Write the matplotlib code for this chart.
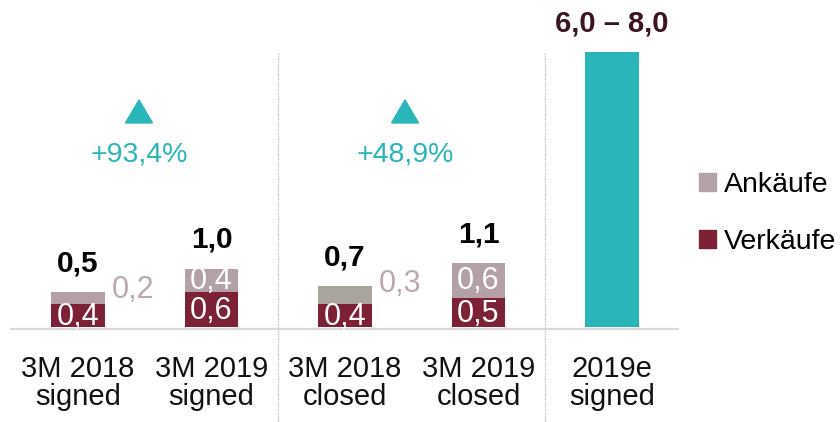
import matplotlib
matplotlib.use('Agg')
import matplotlib.pyplot as plt
from matplotlib.patches import Polygon, Patch

# ---- data ----
cat_line1 = ['3M 2018', '3M 2019', '3M 2018', '3M 2019', '2019e']
cat_line2 = ['signed', 'signed', 'closed', 'closed', 'signed']
verkaeufe = [0.4, 0.6, 0.4, 0.5]
ankaeufe = [0.2, 0.4, 0.3, 0.6]
totals = ['0,5', '1,0', '0,7', '1,1']
verk_labels = ['0,4', '0,6', '0,4', '0,5']
ank_labels = ['0,2', '0,4', '0,3', '0,6']
ank_inside = [False, True, False, True]
forecast_height = 4.74
forecast_label = '6,0 – 8,0'
growth_labels = ['+93,4%', '+48,9%']
growth_pos = [0.457, 2.45]

# ---- style ----
C_VERK = '#7d2137'
C_ANK = '#b3a1a7'
C_ANK_ALT = '#a9a49c'
C_TEAL = '#2ab5b9'
C_OUT = '#bba9ae'
C_DARK = '#3b1520'
FONT = ['Liberation Sans', 'DejaVu Sans']
plt.rcParams['font.family'] = FONT

fig = plt.figure(figsize=(8.4, 4.22), dpi=100)
ax = fig.add_axes([0, 0, 1, 1])
ax.set_xlim(-0.584, 5.708)
ax.set_ylim(-1.638, 5.638)
ax.axis('off')

x = list(range(len(verkaeufe)))
W = 0.40
ank_colors = [C_ANK, C_ANK, C_ANK_ALT, C_ANK]

# baseline
ax.plot([-0.509, 4.502], [-0.026, -0.026], color='#d9d9d9', lw=1.6, zorder=1,
        solid_capstyle='butt')
# separators
ax.vlines([1.5, 3.5], -1.638, forecast_height, colors='#bfb2b6', lw=0.9,
          linestyles=(0, (1, 1)), zorder=1)

ax.bar(x, verkaeufe, W, color=C_VERK, zorder=2)
ax.bar(x, ankaeufe, W, bottom=verkaeufe, color=ank_colors, zorder=2)
ax.bar([4], [forecast_height], W, color=C_TEAL, zorder=2)

OFF = 0.5
for i in x:
    v, a = verkaeufe[i], ankaeufe[i]
    ax.text(i, v / 2 - 0.02, verk_labels[i], ha='center', va='center',
            color='white', fontsize=22, zorder=4)
    if ank_inside[i]:
        ax.text(i, v + a / 2, ank_labels[i], ha='center', va='center',
                color='white', fontsize=22, zorder=4)
    else:
        ax.text(i + W / 2 + 0.055, v + a + 0.04, ank_labels[i], ha='left',
                va='center', color=C_OUT, fontsize=22)
    ax.text(i, v + a + OFF, totals[i], ha='center', va='center',
            color='black', fontsize=21.5, fontweight='bold')

ax.text(4, forecast_height + OFF, forecast_label, ha='center', va='center',
        color=C_DARK, fontsize=21, fontweight='bold')

# growth indicators
hw, hh = 0.101, 0.198
for gx, gl in zip(growth_pos, growth_labels):
    ax.add_patch(Polygon([[gx - hw, 3.716 - hh], [gx + hw, 3.716 - hh],
                          [gx, 3.716 + hh]], closed=True, color=C_TEAL,
                         zorder=3))
    ax.text(gx, 2.98, gl, ha='center', va='center', color=C_TEAL, fontsize=20.5)

# category labels
for i, (l1, l2) in enumerate(zip(cat_line1, cat_line2)):
    ax.text(i, -0.862, l1, ha='center', va='baseline', color='#111111',
            fontsize=21)
    ax.text(i, -1.345, l2, ha='center', va='baseline', color='#111111',
            fontsize=21)

leg = ax.legend(handles=[Patch(color=C_ANK), Patch(color=C_VERK)],
                labels=['Ankäufe', 'Verkäufe'], loc='center left',
                bbox_to_anchor=(699 / 840, 1 - 213.5 / 422), frameon=False,
                fontsize=20.5, handlelength=0.58, handleheight=0.58,
                handletextpad=0.3, labelspacing=1.08, borderpad=0,
                borderaxespad=0)

fig.savefig('out.png', dpi=100)
